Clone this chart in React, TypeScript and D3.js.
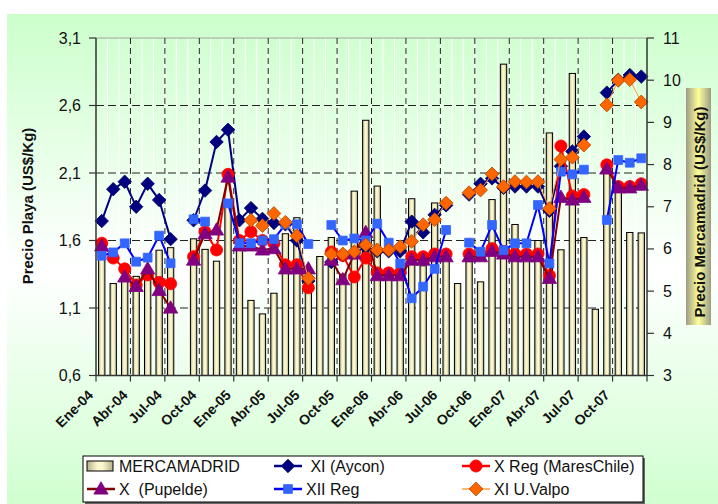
import React from 'react';
import * as d3 from 'd3';

const months = ['Ene', 'Feb', 'Mar', 'Abr', 'May', 'Jun', 'Jul', 'Ago', 'Sep', 'Oct', 'Nov', 'Dic'];
const years = ['04', '05', '06', '07'];
const categories = years.flatMap((y) => months.map((m) => `${m}-${y}`));

// Right axis (bars)
const mercamadrid: (number | null)[] = [
  6.04, 5.18, 5.3, 5.35, 5.3, 5.97, 6.03, null, 6.24, 5.99, 5.71, 7.1,
  6.13, 4.78, 4.46, 4.95, 6.36, 6.74, 5.2, 5.82, 6.27, 5.4, 7.37, 9.05,
  7.49, 5.3, 5.35, 7.19, 5.6, 7.09, 5.75, 5.18, 5.7, 5.22, 7.17, 10.38,
  6.58, 5.9, 6.2, 8.75, 5.98, 10.16, 6.27, 4.57, 7.9, 7.5, 6.39, 6.38,
];

// Left axis (lines)
const xiAycon: (number | null)[] = [
  1.744, 1.98, 2.035, 1.85, 2.02, 1.9, 1.61, null, 1.75, 1.97, 2.33, 2.42,
  1.75, 1.84, 1.76, 1.73, 1.72, 1.6, 1.3, null, 1.44, 1.49, 1.51, 1.55,
  1.52, 1.52, 1.52, 1.74, 1.66, 1.79, 1.86, null, 1.94, 2.02, 2.06, 1.99,
  2.0, 2.0, 2.0, 1.82, 2.15, 2.26, 2.37, null, 2.695, 2.79, 2.826, 2.814,
];
const xRegMares: (number | null)[] = [
  1.58, 1.47, 1.39, 1.27, 1.345, 1.29, 1.28, null, 1.48, 1.665, 1.53, 2.09,
  1.6, 1.665, 1.6, 1.58, 1.42, 1.42, 1.25, null, 1.515, 1.49, 1.33, 1.47,
  1.36, 1.36, 1.36, 1.48, 1.48, 1.5, 1.5, null, 1.5, 1.5, 1.54, 1.52,
  1.5, 1.5, 1.5, 1.34, 2.3, 1.93, 1.94, null, 2.16, 2.0, 2.0, 2.02,
];
const xPupelde: (number | null)[] = [
  1.56, null, 1.33, 1.26, 1.39, 1.23, 1.1, null, 1.455, 1.65, 1.678, 2.07,
  1.56, 1.56, 1.53, 1.54, 1.39, 1.39, 1.39, null, 1.455, 1.31, 1.5, 1.66,
  1.34, 1.34, 1.34, 1.455, 1.455, 1.48, 1.48, null, 1.48, 1.48, 1.52, 1.5,
  1.48, 1.48, 1.48, 1.32, 1.92, 1.9, 1.92, null, 2.13, 1.99, 1.99, 2.01,
];
const xiiReg: (number | null)[] = [
  1.487, 1.512, 1.579, 1.443, 1.473, 1.636, 1.431, null, 1.757, 1.74, null, 1.875,
  1.58, 1.58, 1.6, 1.61, 1.72, 1.72, 1.574, null, 1.715, 1.6, 1.615, 1.6,
  1.725, 1.584, 1.43, 1.172, 1.258, 1.39, 1.678, null, 1.584, 1.517, 1.715, 1.528,
  1.579, 1.579, 1.863, 1.43, 2.11, 2.09, 2.125, null, 1.752, 2.196, 2.176, 2.209,
];
const xiUValpo: (number | null)[] = [
  null, null, null, null, null, null, null, null, null, null, null, null,
  null, 1.75, 1.71, 1.8, 1.735, 1.635, 1.32, null, 1.5, 1.5, 1.517, 1.567,
  1.53, 1.53, 1.554, 1.593, 1.717, 1.755, 1.877, null, 1.954, 1.974, 2.093, 1.999,
  2.036, 2.033, 2.036, 1.836, 2.2, 2.217, 2.307, null, 2.604, 2.787, 2.792, 2.626,
];

const leftTicks = [0.6, 1.1, 1.6, 2.1, 2.6, 3.1];
const rightTicks = [3, 4, 5, 6, 7, 8, 9, 10, 11];
const leftTitle = 'Precio Playa (US$/Kg)';
const rightTitle = 'Precio Mercamadrid (US$/Kg)';

type Shape = 'diamond' | 'circle' | 'triangle' | 'square';
interface Series {
  name: string;
  data: (number | null)[];
  line: string;
  lineWidth: number;
  marker: Shape;
  fill: string;
  stroke: string;
  size: number;
}

const series: Series[] = [
  { name: ' XI (Aycon)', data: xiAycon, line: '#000080', lineWidth: 2, marker: 'diamond', fill: '#000080', stroke: '#000060', size: 90 },
  { name: 'X Reg (MaresChile)', data: xRegMares, line: '#ff0000', lineWidth: 2, marker: 'circle', fill: '#ff0000', stroke: '#ff0000', size: 115 },
  { name: 'X  (Pupelde)', data: xPupelde, line: '#800000', lineWidth: 2, marker: 'triangle', fill: '#800080', stroke: '#800080', size: 88 },
  { name: 'XII Reg', data: xiiReg, line: '#0000ff', lineWidth: 2, marker: 'square', fill: '#3366ff', stroke: '#3366ff', size: 78 },
  { name: 'XI U.Valpo', data: xiUValpo, line: '#ff9933', lineWidth: 1, marker: 'diamond', fill: '#ff6600', stroke: '#b34700', size: 95 },
];

const W = 718;
const H = 504;
const X0 = 96;
const X1 = 647;
const YT = 38;
const YB = 375.5;
const FONT = '"Liberation Sans", Arial, sans-serif';

function symbolPath(shape: Shape, size: number): string {
  if (shape === 'diamond') return d3.symbol().type(d3.symbolSquare).size(size)() as string;
  if (shape === 'circle') return d3.symbol().type(d3.symbolCircle).size(size)() as string;
  if (shape === 'triangle') return d3.symbol().type(d3.symbolTriangle).size(size)() as string;
  return d3.symbol().type(d3.symbolSquare).size(size)() as string;
}

function Marker({ s, x, y }: { s: Series; x: number; y: number }) {
  const d = symbolPath(s.marker, s.size);
  const rot = s.marker === 'diamond' ? ' rotate(45)' : '';
  const dy = s.marker === 'triangle' ? 1 : 0;
  return (
    <path
      d={d}
      transform={`translate(${x},${y + dy})${rot}`}
      fill={s.fill}
      stroke={s.stroke}
      strokeWidth={0.8}
    />
  );
}

export default function App() {
  const x = d3
    .scaleBand<number>()
    .domain(categories.map((_, i) => i))
    .range([X0, X1])
    .paddingInner(0.45)
    .paddingOuter(0.225);
  const step = x.step();
  const bw = x.bandwidth();
  const cx = (i: number) => (x(i) as number) + bw / 2;
  const yL = d3.scaleLinear().domain([0.6, 3.1]).range([YB, YT]);
  const yR = d3.scaleLinear().domain([3, 11]).range([YB, YT]);

  const boundaries = d3.range(1, categories.length).map((k) => X0 + (k * (X1 - X0)) / categories.length);
  const majorIdx = d3.range(0, categories.length + 1, 3);

  const lineGen = (data: (number | null)[]) =>
    d3
      .line<number | null>()
      .defined((d) => d !== null)
      .x((_, i) => cx(i))
      .y((d) => yL(d as number))(data) as string;

  const legendItems = [
    { col: 0, row: 0, kind: 'bar' as const, name: 'MERCAMADRID' },
    { col: 1, row: 0, kind: 'series' as const, s: series[0] },
    { col: 2, row: 0, kind: 'series' as const, s: series[1] },
    { col: 0, row: 1, kind: 'series' as const, s: series[2] },
    { col: 1, row: 1, kind: 'series' as const, s: series[3] },
    { col: 2, row: 1, kind: 'series' as const, s: series[4] },
  ];
  const colX = [87, 274, 462];
  const rowY = [466, 489];

  return (
    <svg width={W} height={H} style={{ position: 'absolute', left: 0, top: 0, fontFamily: FONT }}>
      <defs>
        <linearGradient id="bg" x1="0" y1="0" x2="0" y2="1">
          <stop offset="0" stopColor="#ccffcc" />
          <stop offset="0.5" stopColor="#ffffff" />
          <stop offset="1" stopColor="#ccffcc" />
        </linearGradient>
        <linearGradient id="barGrad" x1="0" y1="0" x2="1" y2="0">
          <stop offset="0" stopColor="#b4b08a" />
          <stop offset="0.4" stopColor="#fbf8cf" />
          <stop offset="0.6" stopColor="#fbf8cf" />
          <stop offset="1" stopColor="#b4b08a" />
        </linearGradient>
        <linearGradient id="titleGrad" x1="0" y1="0" x2="1" y2="0">
          <stop offset="0" stopColor="#9c9c86" />
          <stop offset="0.5" stopColor="#ffff99" />
          <stop offset="1" stopColor="#9c9c86" />
        </linearGradient>
      </defs>
      <rect x={0} y={0} width={W} height={H} fill="#ffffff" />
      <rect x={7} y={14} width={W} height={510} fill="url(#bg)" />

      {/* minor white gridlines */}
      {boundaries.map((bx, k) => (
        <line key={`m${k}`} x1={bx} x2={bx} y1={YT} y2={YB} stroke="#ffffff" strokeWidth={1} />
      ))}
      {/* plot top border */}
      <line x1={X0} x2={X1} y1={YT} y2={YT} stroke="#a0a0a0" strokeWidth={1} />
      {/* major vertical dashed */}
      {majorIdx.slice(1, -1).map((k) => {
        const bx = X0 + k * step;
        return (
          <line key={`v${k}`} x1={bx} x2={bx} y1={YT} y2={YB} stroke="#222" strokeWidth={1} strokeDasharray="6,4" />
        );
      })}
      {/* horizontal dashed */}
      {leftTicks.slice(1, -1).map((t) => (
        <line key={`h${t}`} x1={X0} x2={X1} y1={yL(t)} y2={yL(t)} stroke="#222" strokeWidth={1} strokeDasharray="8,4" />
      ))}

      {/* bars */}
      {mercamadrid.map((v, i) =>
        v === null ? null : (
          <rect
            key={`b${i}`}
            x={x(i) as number}
            y={yR(v)}
            width={bw}
            height={YB - yR(v)}
            fill="url(#barGrad)"
            stroke="#000"
            strokeWidth={1}
          />
        )
      )}

      {/* series */}
      {series.map((s, si) => (
        <g key={`s${si}`}>
          <path d={lineGen(s.data)} fill="none" stroke={s.line} strokeWidth={s.lineWidth} />
          {s.data.map((v, i) => (v === null ? null : <Marker key={i} s={s} x={cx(i)} y={yL(v)} />))}
        </g>
      ))}

      {/* axes */}
      <line x1={X0} x2={X0} y1={YT} y2={YB} stroke="#333" strokeWidth={1.5} />
      <line x1={X1} x2={X1} y1={YT} y2={YB} stroke="#333" strokeWidth={1.5} />
      <line x1={X0} x2={X1} y1={YB} y2={YB} stroke="#333" strokeWidth={1.5} />
      {leftTicks.map((t) => (
        <g key={`lt${t}`}>
          <line x1={X0 - 7} x2={X0} y1={yL(t)} y2={yL(t)} stroke="#333" strokeWidth={1.2} />
          <text x={81} y={yL(t) + 5.5} fontSize={16} textAnchor="end" fill="#111">
            {d3.format('.1f')(t).replace('.', ',')}
          </text>
        </g>
      ))}
      {rightTicks.map((t) => (
        <g key={`rt${t}`}>
          <line x1={X1} x2={X1 + 7} y1={yR(t)} y2={yR(t)} stroke="#333" strokeWidth={1.2} />
          <text x={663} y={yR(t) + 5.5} fontSize={16} textAnchor="start" fill="#111">
            {t}
          </text>
        </g>
      ))}
      {majorIdx.map((k) => {
        const bx = X0 + k * step;
        return <line key={`bt${k}`} x1={bx} x2={bx} y1={YB} y2={YB + 6} stroke="#333" strokeWidth={1.2} />;
      })}
      {majorIdx.slice(0, -1).map((k) => {
        const bx = X0 + k * step;
        return (
          <text
            key={`xl${k}`}
            transform={`translate(${bx - 2},${396}) rotate(-45)`}
            fontSize={14}
            fontWeight="bold"
            textAnchor="end"
            fill="#111"
          >
            {categories[k]}
          </text>
        );
      })}

      {/* axis titles */}
      <text transform={`translate(33,206) rotate(-90)`} fontSize={15} fontWeight="bold" textAnchor="middle" fill="#111">
        {leftTitle}
      </text>
      <rect x={686} y={88} width={25} height={237} fill="url(#titleGrad)" />
      <text transform={`translate(704.5,212) rotate(-90)`} fontSize={15} fontWeight="bold" textAnchor="middle" fill="#111">
        {rightTitle}
      </text>

      {/* legend */}
      <rect x={85} y={458} width={560} height={46} fill="#666" />
      <rect x={83} y={456} width={560} height={46} fill="#ffffff" stroke="#000" strokeWidth={1} />
      {legendItems.map((it, k) => {
        const lx = colX[it.col];
        const ly = rowY[it.row];
        if (it.kind === 'bar') {
          return (
            <g key={`lg${k}`}>
              <rect x={lx} y={ly - 5} width={26} height={10} fill="url(#barGrad)" stroke="#000" strokeWidth={1} />
              <text x={lx + 32} y={ly + 6} fontSize={16} fill="#111" style={{ whiteSpace: 'pre' }}>
                {it.name}
              </text>
            </g>
          );
        }
        const s = it.s;
        return (
          <g key={`lg${k}`}>
            <line x1={lx} x2={lx + 28} y1={ly} y2={ly} stroke={s.line} strokeWidth={s.lineWidth === 1 ? 2 : 2.5} opacity={s.lineWidth === 1 ? 0.7 : 1} />
            <Marker s={s} x={lx + 14} y={ly} />
            <text x={lx + 32} y={ly + 6} fontSize={16} fill="#111" style={{ whiteSpace: 'pre' }}>
              {s.name}
            </text>
          </g>
        );
      })}
    </svg>
  );
}
